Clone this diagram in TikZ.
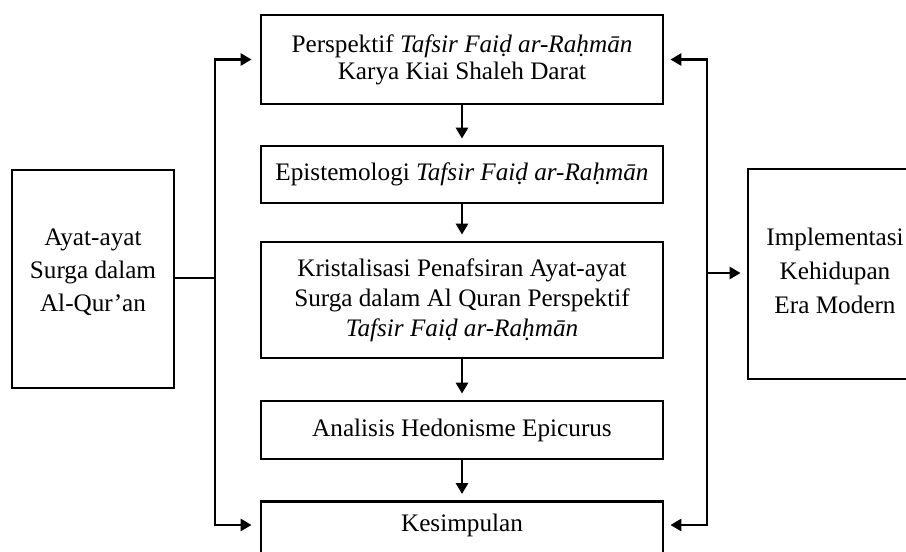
\documentclass[tikz,border=0pt]{standalone}
\usepackage{fontspec}
\setmainfont{Liberation Serif}
\usetikzlibrary{arrows.meta}
\tikzset{
  box/.style={draw, line width=2.8pt, rectangle, inner sep=0pt, align=center,
    font=\fontsize{25.2}{29}\selectfont},
  conn/.style={line width=2.8pt, line join=miter},
  arr/.style={conn, -{Triangle[length=11pt,width=12pt]}, shorten >=6pt},
  lbl/.style={inner sep=0pt, align=center, font=\fontsize{25.2}{29}\selectfont}
}
\begin{document}
\begin{tikzpicture}[x=1pt,y=1pt]
\useasboundingbox (0,0) rectangle (906,-552);
% central column
\node[box, minimum width=402, minimum height=89, font=\fontsize{25.2}{27}\selectfont] (p) at (462,-59.5)
  {Perspektif \textit{Tafsir Faiḍ ar-Raḥmān}\\Karya Kiai Shaleh Darat};
\node[box, minimum width=402, minimum height=57] (e) at (462,-174.5)
  {Epistemologi \textit{Tafsir Faiḍ ar-Raḥmān}};
\node[box, minimum width=402, minimum height=116, font=\fontsize{25.2}{30}\selectfont] (k) at (462,-300)
  {Kristalisasi Penafsiran Ayat-ayat\\Surga dalam Al Quran Perspektif\\\textit{Tafsir Faiḍ ar-Raḥmān}};
\node[box, minimum width=402, minimum height=58] (a) at (462,-430)
  {Analisis Hedonisme Epicurus};
\node[box, minimum width=402, minimum height=80, anchor=north] (ks) at (462,-500) {};
\node[lbl] (kst) at (462,-525) {Kesimpulan};
% side boxes
\node[box, minimum width=162, minimum height=218] (l) at (93,-279) {};
\node[lbl, font=\fontsize{25.2}{33}\selectfont] (lt) at (93,-272) {Ayat-ayat\\Surga dalam\\Al-Qur’an};
\node[box, minimum width=174, minimum height=210] (r) at (835,-274) {};
\node[lbl, font=\fontsize{25.2}{34}\selectfont] (rt) at (835,-271) {Implementasi\\Kehidupan\\Era Modern};
% junctions
\coordinate (lx) at (215,-278);
\coordinate (rx) at (707,-273);
% vertical flow
\draw[arr] (p) -- (e);
\draw[arr] (e) -- (k);
\draw[arr] (k) -- (a);
\draw[arr] (a) -- (ks);
% left connector
\draw[conn] (l.east |- lx) -- (lx);
\draw[arr, shorten >=8pt] (lx) |- (p.west);
\draw[arr, shorten >=8pt] (lx) |- (ks.west |- kst);
% right connector
\draw[arr] (rx) -- (r.west |- rx);
\draw[arr] (rx) |- (p.east);
\draw[arr] (rx) |- (ks.east |- kst);
\end{tikzpicture}
\end{document}
